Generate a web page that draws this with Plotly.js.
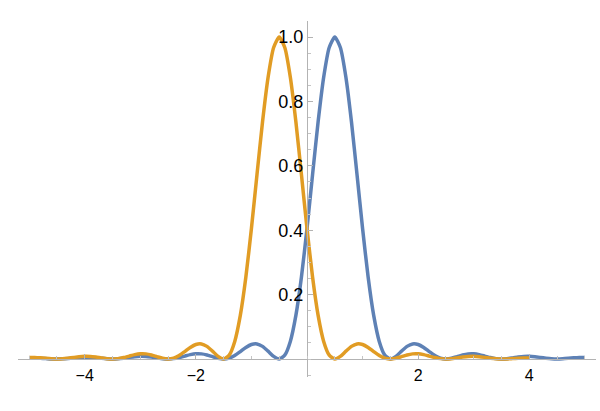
<!DOCTYPE html>
<html>
<head>
<meta charset="utf-8">
<script src="https://cdn.plot.ly/plotly-3.0.1.min.js"></script>
<style>html,body{margin:0;padding:0;background:#fff;}#chart{width:600px;height:411px;}</style>
</head>
<body>
<div id="chart"></div>
<script>
const xValues = [-5.0,-4.9,-4.8,-4.7,-4.6,-4.5,-4.4,-4.3,-4.2,-4.1,-4.0,-3.9,-3.8,-3.7,-3.6,-3.5,-3.4,-3.3,-3.2,-3.1,-3.0,-2.9,-2.8,-2.7,-2.6,-2.5,-2.4,-2.3,-2.2,-2.1,-2.0,-1.9,-1.8,-1.7,-1.6,-1.5,-1.4,-1.3,-1.2,-1.1,-1.0,-0.9,-0.8,-0.7,-0.6,-0.5,-0.4,-0.3,-0.2,-0.1,0.0,0.1,0.2,0.3,0.4,0.5,0.6,0.7,0.8,0.9,1.0,1.1,1.2,1.3,1.4,1.5,1.6,1.7,1.8,1.9,2.0,2.1,2.2,2.3,2.4,2.5,2.6,2.7,2.8,2.9,3.0,3.1,3.2,3.3,3.4,3.5,3.6,3.7,3.8,3.9,4.0,4.1,4.2,4.3,4.4,4.5,4.6,4.7,4.8,4.9,5.0];

const blueValues = [0.00335,0.00314,0.00236,0.00129,0.00037,0,0.00040,0.00152,0.00300,0.00433,0.00500,0.00473,0.00359,0.00198,0.00058,0,0.00064,0.00242,0.00484,0.00707,0.00827,0.00793,0.00609,0.00342,0.00101,0,0.00115,0.00447,0.00910,0.01356,0.01621,0.01591,0.01254,0.00723,0.00219,0,0.00268,0.01080,0.02295,0.03580,0.04503,0.04676,0.03924,0.02431,0.00800,0,0.01194,0.05470,0.13534,0.25457,0.40528,0.57279,0.73684,0.87515,0.96753,1,0.96753,0.87515,0.73684,0.57279,0.40528,0.25457,0.13534,0.05470,0.01194,0,0.00800,0.02431,0.03924,0.04676,0.04503,0.03580,0.02295,0.01080,0.00268,0,0.00219,0.00723,0.01254,0.01591,0.01621,0.01356,0.00910,0.00447,0.00115,0,0.00101,0.00342,0.00609,0.00793,0.00827,0.00707,0.00484,0.00242,0.00064,0,0.00058,0.00198,0.00359,0.00473,0.00500];

const orangeValues = [0.00500,0.00473,0.00359,0.00198,0.00058,0,0.00064,0.00242,0.00484,0.00707,0.00827,0.00793,0.00609,0.00342,0.00101,0,0.00115,0.00447,0.00910,0.01356,0.01621,0.01591,0.01254,0.00723,0.00219,0,0.00268,0.01080,0.02295,0.03580,0.04503,0.04676,0.03924,0.02431,0.00800,0,0.01194,0.05470,0.13534,0.25457,0.40528,0.57279,0.73684,0.87515,0.96753,1,0.96753,0.87515,0.73684,0.57279,0.40528,0.25457,0.13534,0.05470,0.01194,0,0.00800,0.02431,0.03924,0.04676,0.04503,0.03580,0.02295,0.01080,0.00268,0,0.00219,0.00723,0.01254,0.01591,0.01621,0.01356,0.00910,0.00447,0.00115,0,0.00101,0.00342,0.00609,0.00793,0.00827,0.00707,0.00484,0.00242,0.00064,0,0.00037,0.00129,0.00236,0.00314,0.00335];

const xTickVals = [-4, -2, 2, 4];
const xTickText = ['\u22124', '\u22122', '2', '4'];
const yTickVals = [0.2, 0.4, 0.6, 0.8, 1.0];
const yTickText = ['0.2', '0.4', '0.6', '0.8', '1.0'];

const xRange = [-5.2, 5.2];
const yRange = [-0.0559, 1.0497];

const traces = [
  {x: xValues, y: blueValues, type: 'scatter', mode: 'lines',
   line: {color: '#5E81B5', width: 3.5, shape: 'spline', smoothing: 0.6}, hoverinfo: 'skip'},
  {x: xValues, y: orangeValues, type: 'scatter', mode: 'lines',
   line: {color: '#E19C24', width: 3.5, shape: 'spline', smoothing: 0.6}, hoverinfo: 'skip'}
];

const xFont = {family: 'Arial', size: 16, color: '#000'};
const yFont = {family: 'Arial', size: 18, color: '#000'};
const xPos = (0 - yRange[0]) / (yRange[1] - yRange[0]);
const yPos = (0 - xRange[0]) / (xRange[1] - xRange[0]);

const layout = {
  width: 600, height: 411,
  margin: {l: 18, r: 4, t: 21, b: 34, pad: 0},
  paper_bgcolor: '#fff', plot_bgcolor: '#fff',
  showlegend: false,
  xaxis: {
    range: xRange, anchor: 'free', position: xPos,
    showgrid: false, zeroline: false,
    showline: true, linecolor: '#b3b3b3', linewidth: 1,
    tickmode: 'array', tickvals: xTickVals, ticktext: xTickText,
    ticks: 'inside', ticklen: 5, tickcolor: '#b3b3b3', tickwidth: 1,
    minor: {dtick: 0.5, tick0: 0, ticks: 'inside', ticklen: 3, tickcolor: '#c4c4c4', showgrid: false},
    tickfont: xFont, ticklabelstandoff: 2, layer: 'above traces'
  },
  yaxis: {
    range: yRange, anchor: 'free', position: yPos, side: 'left',
    showgrid: false, zeroline: false,
    showline: true, linecolor: '#b3b3b3', linewidth: 1,
    tickmode: 'array', tickvals: yTickVals, ticktext: yTickText,
    ticks: 'inside', ticklen: 5, tickcolor: '#b3b3b3', tickwidth: 1,
    minor: {dtick: 0.05, tick0: 0, ticks: 'inside', ticklen: 3, tickcolor: '#c4c4c4', showgrid: false},
    tickfont: yFont, layer: 'above traces'
  }
};

Plotly.newPlot('chart', traces, layout, {staticPlot: true, displayModeBar: false});
</script>
</body>
</html>
